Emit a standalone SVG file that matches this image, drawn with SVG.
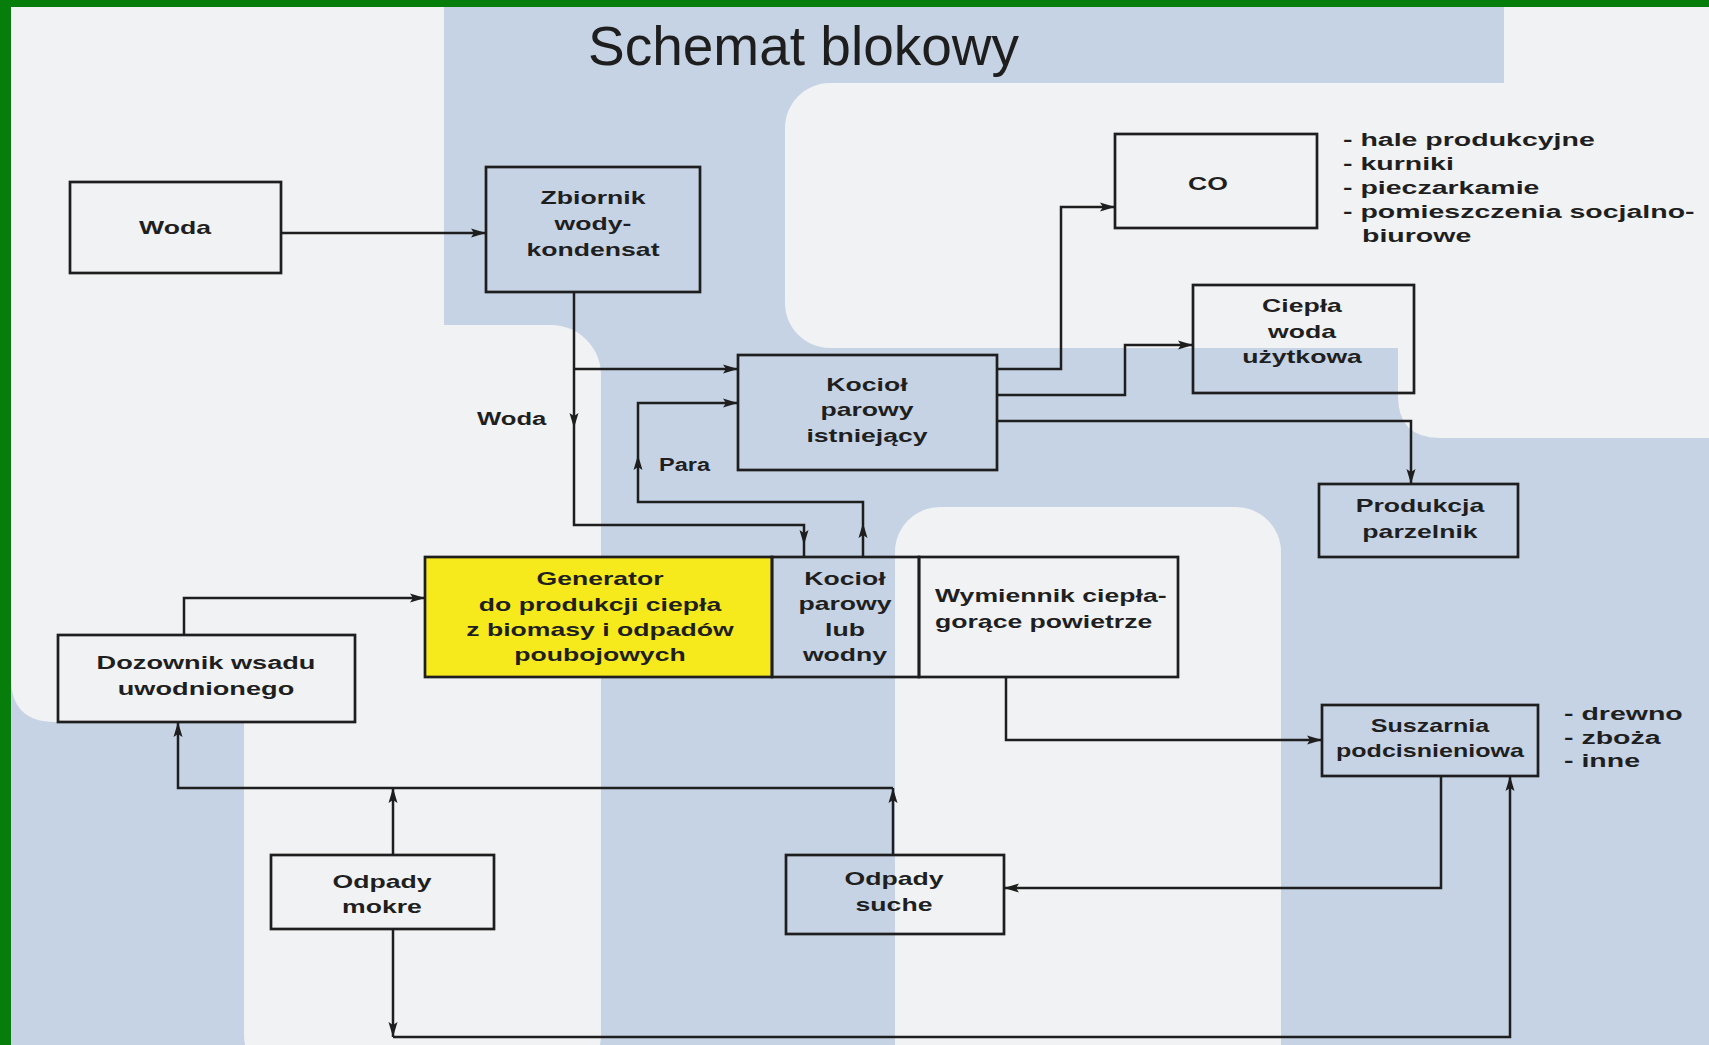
<svg xmlns="http://www.w3.org/2000/svg" width="1709" height="1045" viewBox="0 0 1709 1045">
<defs>
<marker id="ah" markerUnits="userSpaceOnUse" markerWidth="15" markerHeight="10" refX="15" refY="5" orient="auto">
<path d="M0,0.5 L15,5 L0,9.5 L3,5 z" fill="#1e1e1e"/>
</marker>
</defs>
<style>
.bg-blue{fill:#c6d3e4}
.bg-white{fill:#f1f2f4}
.box{fill:none;stroke:#1e1e1e;stroke-width:2.7}
.t{font-family:"Liberation Sans",Arial,sans-serif;font-size:19px;font-weight:bold;fill:#1f1f1f}
.title{font-family:"Liberation Sans",Arial,sans-serif;font-size:55px;fill:#1e1e1e}
#connectors path{fill:none;stroke:#1e1e1e;stroke-width:2.5}
</style>

<g id="background">
<rect class="bg-blue" x="0" y="0" width="1709" height="1045"/>
<path class="bg-white" d="M11,7 H444 V722 H55 Q11,722 11,678 Z"/>
<rect class="bg-white" x="244" y="325" width="357" height="760" rx="50"/>
<rect class="bg-white" x="785" y="83" width="720" height="265" rx="45"/>
<path class="bg-white" d="M1398,83 H1709 V438 H1440 Q1398,438 1398,396 Z"/>
<rect class="bg-white" x="1504" y="7" width="205" height="100"/>
<rect class="bg-white" x="895" y="507" width="386" height="600" rx="45"/>
<rect x="0" y="0" width="1709" height="7" fill="#077d0c"/>
<rect x="0" y="0" width="11" height="1045" fill="#077d0c"/>
</g>

<text class="title" x="588" y="65">Schemat blokowy</text>

<g id="connectors">
<path d="M281,233 H486" marker-end="url(#ah)"/>
<path d="M574,292 V428" marker-end="url(#ah)"/>
<path d="M574,428 V525 H804 V545" marker-end="url(#ah)"/>
<path d="M804,545 V557"/>
<path d="M574,369 H738" marker-end="url(#ah)"/>
<path d="M863,557 V523" marker-end="url(#ah)"/>
<path d="M863,523 V502 H638 V455" marker-end="url(#ah)"/>
<path d="M638,455 V403 H738" marker-end="url(#ah)"/>
<path d="M997,369 H1061 V207 H1115" marker-end="url(#ah)"/>
<path d="M997,395 H1125 V345 H1193" marker-end="url(#ah)"/>
<path d="M997,421 H1411 V484" marker-end="url(#ah)"/>
<path d="M184,635 V598 H425" marker-end="url(#ah)"/>
<path d="M893,788 H178 V722" marker-end="url(#ah)"/>
<path d="M393,855 V788" marker-end="url(#ah)"/>
<path d="M893,855 V788" marker-end="url(#ah)"/>
<path d="M1006,677 V740 H1322" marker-end="url(#ah)"/>
<path d="M1441,776 V888 H1004" marker-end="url(#ah)"/>
<path d="M393,929 V1037" marker-end="url(#ah)"/>
<path d="M393,1037 H1510 V776" marker-end="url(#ah)"/>
<text class="t" transform="translate(477,425) scale(1.35,1)">Woda</text>
<text class="t" transform="translate(659,471) scale(1.24,1)">Para</text>
</g>

<g id="node-woda">
<rect class="box" x="70" y="182" width="211" height="91"/>
<text class="t" text-anchor="middle" transform="translate(175,234) scale(1.4,1)">Woda</text>
</g>

<g id="node-zbiornik">
<rect class="box" x="486" y="167" width="214" height="125"/>
<text class="t" text-anchor="middle" transform="translate(593,204) scale(1.4,1)"><tspan x="0" y="0">Zbiornik</tspan><tspan x="0" y="26">wody-</tspan><tspan x="0" y="52">kondensat</tspan></text>
</g>

<g id="node-kociol-istniejacy">
<rect class="box" x="738" y="355" width="259" height="115"/>
<text class="t" text-anchor="middle" transform="translate(867,391) scale(1.4,1)"><tspan x="0" y="0">Kocioł</tspan><tspan x="0" y="25">parowy</tspan><tspan x="0" y="51">istniejący</tspan></text>
</g>

<g id="node-co">
<rect class="box" x="1115" y="134" width="202" height="94"/>
<text class="t" text-anchor="middle" transform="translate(1208,190) scale(1.4,1)">CO</text>
<text class="t" transform="translate(1343,146) scale(1.5,1)">- hale produkcyjne</text>
<text class="t" transform="translate(1343,170) scale(1.5,1)">- kurniki</text>
<text class="t" transform="translate(1343,194) scale(1.5,1)">- pieczarkamie</text>
<text class="t" transform="translate(1343,218) scale(1.5,1)">- pomieszczenia socjalno-</text>
<text class="t" transform="translate(1362,242) scale(1.5,1)">biurowe</text>
</g>

<g id="node-ciepla-woda">
<rect class="box" x="1193" y="285" width="221" height="108"/>
<text class="t" text-anchor="middle" transform="translate(1302,312) scale(1.4,1)"><tspan x="0" y="0">Ciepła</tspan><tspan x="0" y="26">woda</tspan><tspan x="0" y="51">użytkowa</tspan></text>
</g>

<g id="node-produkcja">
<rect class="box" x="1319" y="484" width="199" height="73"/>
<text class="t" text-anchor="middle" transform="translate(1420,512) scale(1.4,1)"><tspan x="0" y="0">Produkcja</tspan><tspan x="0" y="26">parzelnik</tspan></text>
</g>

<g id="node-generator">
<rect x="425" y="557" width="347" height="120" fill="#f6ea1c" stroke="#1e1e1e" stroke-width="2.7"/>
<text class="t" text-anchor="middle" transform="translate(600,585) scale(1.4,1)"><tspan x="0" y="0">Generator</tspan><tspan x="0" y="26">do produkcji ciepła</tspan><tspan x="0" y="51">z biomasy i odpadów</tspan><tspan x="0" y="76">poubojowych</tspan></text>
</g>

<g id="node-kociol-wodny">
<rect class="box" x="772" y="557" width="147" height="120"/>
<text class="t" text-anchor="middle" transform="translate(845,585) scale(1.4,1)"><tspan x="0" y="0">Kocioł</tspan><tspan x="0" y="25">parowy</tspan><tspan x="0" y="51">lub</tspan><tspan x="0" y="76">wodny</tspan></text>
</g>

<g id="node-wymiennik">
<rect class="box" x="919" y="557" width="259" height="120"/>
<text class="t" transform="translate(935,602) scale(1.4,1)"><tspan x="0" y="0">Wymiennik ciepła-</tspan><tspan x="0" y="26">gorące powietrze</tspan></text>
</g>

<g id="node-dozownik">
<rect class="box" x="58" y="635" width="297" height="87"/>
<text class="t" text-anchor="middle" transform="translate(206,669) scale(1.43,1)"><tspan x="0" y="0">Dozownik wsadu</tspan><tspan x="0" y="26">uwodnionego</tspan></text>
</g>

<g id="node-suszarnia">
<rect class="box" x="1322" y="705" width="216" height="71"/>
<text class="t" text-anchor="middle" transform="translate(1430,732) scale(1.32,1)"><tspan x="0" y="0">Suszarnia</tspan><tspan x="0" y="25">podcisnieniowa</tspan></text>
<text class="t" transform="translate(1564,720) scale(1.5,1)">- drewno</text>
<text class="t" transform="translate(1564,744) scale(1.5,1)">- zboża</text>
<text class="t" transform="translate(1564,767) scale(1.5,1)">- inne</text>
</g>

<g id="node-odpady-mokre">
<rect class="box" x="271" y="855" width="223" height="74"/>
<text class="t" text-anchor="middle" transform="translate(382,888) scale(1.4,1)"><tspan x="0" y="0">Odpady</tspan><tspan x="0" y="25">mokre</tspan></text>
</g>

<g id="node-odpady-suche">
<rect class="box" x="786" y="855" width="218" height="79"/>
<text class="t" text-anchor="middle" transform="translate(894,885) scale(1.4,1)"><tspan x="0" y="0">Odpady</tspan><tspan x="0" y="26">suche</tspan></text>
</g>
</svg>
